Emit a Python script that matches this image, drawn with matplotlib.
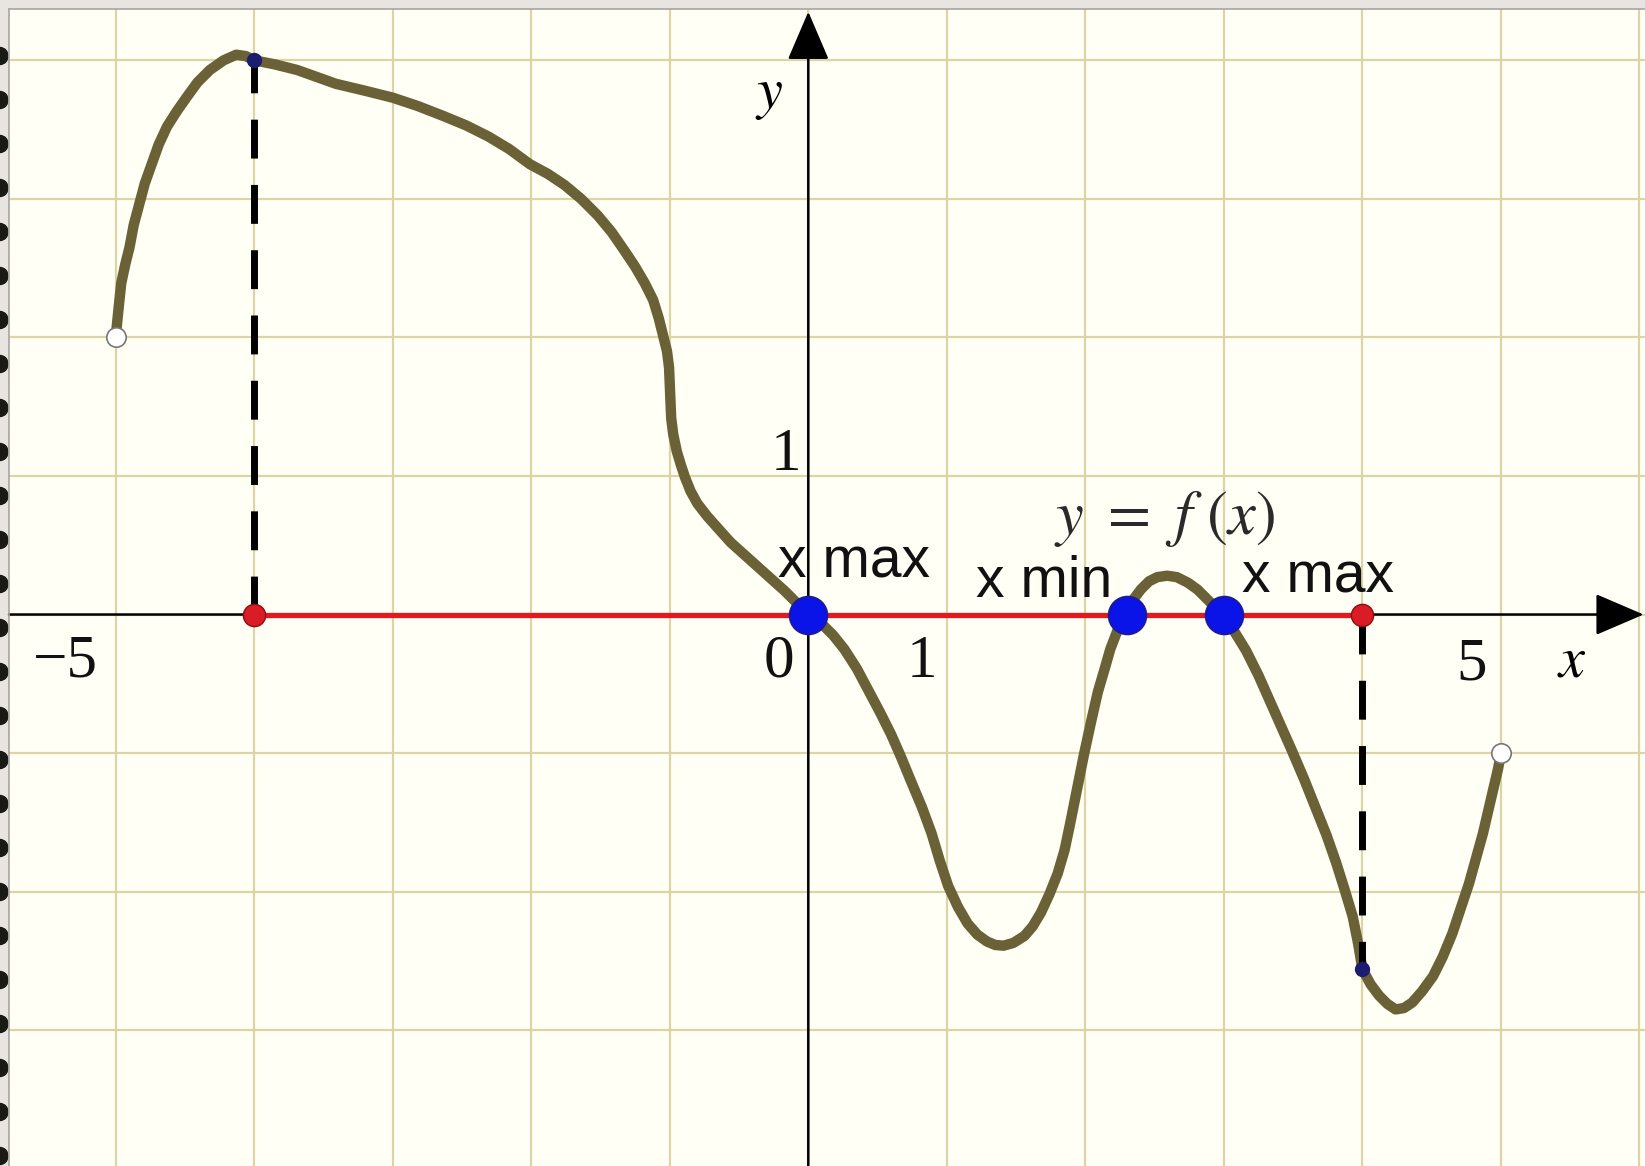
import numpy as np
import matplotlib
matplotlib.use('Agg')
import matplotlib.pyplot as plt

plt.rcParams['mathtext.fontset'] = 'stix'

# кривая y = f(x), точки
curve_x = [-5.0, -4.98, -4.96, -4.93, -4.90, -4.87, -4.83, -4.79, -4.74, -4.69,
           -4.63, -4.56, -4.49, -4.41, -4.32, -4.22, -4.13, -4.06, -4.0, -3.85,
           -3.69, -3.55, -3.41, -3.2, -3.0, -2.82, -2.64, -2.47, -2.31, -2.16,
           -2.01, -1.88, -1.76, -1.64, -1.52, -1.42, -1.33, -1.25, -1.18, -1.12,
           -1.08, -1.05, -1.02, -1.005, -1.0, -0.995, -0.99, -0.975, -0.95, -0.92,
           -0.89, -0.85, -0.80, -0.73, -0.65, -0.56, -0.46, -0.37, -0.27, -0.17,
           -0.07, 0.0, 0.10, 0.18, 0.26, 0.35, 0.43, 0.52, 0.60, 0.67,
           0.74, 0.82, 0.89, 0.95, 1.01, 1.08, 1.15, 1.22, 1.29, 1.35,
           1.41, 1.48, 1.56, 1.62, 1.68, 1.74, 1.80, 1.85, 1.89, 1.94,
           1.99, 2.04, 2.09, 2.14, 2.18, 2.23, 2.28, 2.34, 2.40, 2.46,
           2.52, 2.59, 2.66, 2.74, 2.81, 2.87, 2.93, 3.0, 3.08, 3.16,
           3.25, 3.33, 3.41, 3.49, 3.58, 3.66, 3.74, 3.81, 3.87, 3.93,
           3.97, 4.0, 4.06, 4.12, 4.18, 4.24, 4.30, 4.36, 4.43, 4.51,
           4.58, 4.65, 4.71, 4.77, 4.82, 4.87, 4.91, 4.95, 4.98, 5.0]
curve_y = [2.0, 2.2, 2.39, 2.53, 2.65, 2.81, 2.96, 3.11, 3.25, 3.39,
           3.52, 3.63, 3.73, 3.84, 3.93, 4.0, 4.04, 4.03, 4.0, 3.97,
           3.93, 3.88, 3.83, 3.78, 3.73, 3.67, 3.60, 3.53, 3.45, 3.36,
           3.25, 3.18, 3.10, 3.00, 2.88, 2.76, 2.63, 2.51, 2.39, 2.27,
           2.14, 2.02, 1.90, 1.78, 1.66, 1.54, 1.42, 1.30, 1.18, 1.08,
           0.99, 0.89, 0.80, 0.71, 0.62, 0.52, 0.43, 0.35, 0.26, 0.17,
           0.07, 0.0, -0.07, -0.15, -0.25, -0.39, -0.54, -0.71, -0.87, -1.03,
           -1.20, -1.39, -1.58, -1.78, -1.96, -2.11, -2.23, -2.31, -2.36, -2.385,
           -2.39, -2.37, -2.32, -2.25, -2.15, -2.02, -1.87, -1.70, -1.51, -1.26,
           -1.01, -0.78, -0.56, -0.39, -0.25, -0.12, 0.0, 0.10, 0.18, 0.24,
           0.27, 0.28, 0.27, 0.23, 0.18, 0.12, 0.06, 0.0, -0.13, -0.26,
           -0.44, -0.62, -0.80, -0.98, -1.19, -1.39, -1.59, -1.79, -1.98, -2.18,
           -2.38, -2.56, -2.67, -2.75, -2.81, -2.85, -2.84, -2.80, -2.72, -2.61,
           -2.47, -2.30, -2.12, -1.94, -1.76, -1.58, -1.41, -1.24, -1.11, -1.0]

open_x = [-5, 5]
open_y = [2, -1]
seg_x = [-4, 4]            # отрезок [-4; 4] на оси
seg_top = [4, -2.56]       # значения f(-4), f(4)
crit_x = [0, 2.3, 3]       # точки экстремума
crit_labels = ['x max', 'x min', 'x max']
label_pos = [(0.33, 0.27), (1.70, 0.13), (3.68, 0.16)]

xlim = (-5.77, 6.04)
ylim = (-3.98, 4.37)

fig = plt.figure(figsize=(16.45, 11.66), dpi=100)
fig.patch.set_facecolor('#e8e5e1')
ax = fig.add_axes([9/1645, 0, 1 - 9/1645, 1 - 9/1166])
ax.set_facecolor('#fffff5')
ax.set_xlim(*xlim)
ax.set_ylim(*ylim)
ax.set_xticks(range(-5, 7))
ax.set_yticks(range(-3, 5))
ax.grid(color='#dcd4a4', lw=1.6, zorder=0)
ax.tick_params(length=0, labelbottom=False, labelleft=False)
for s in ax.spines.values():
    s.set_visible(False)

# оси со стрелками
arrow = dict(arrowstyle='-|>,head_length=1.4,head_width=0.6', lw=1.8,
             color='black', shrinkA=0, shrinkB=0, mutation_scale=22)
ax.annotate('', xy=(6.03, 0), xytext=(xlim[0], 0), arrowprops=arrow, zorder=2)
ax.annotate('', xy=(0, 4.35), xytext=(0, ylim[0]), arrowprops=arrow, zorder=2)

# пунктир
for xv, yv in zip(seg_x, seg_top):
    ax.plot([xv, xv], [0, yv], color='black', lw=5, dashes=(5.6, 3.8), zorder=4)

ax.plot(curve_x, curve_y, color='#6b6137', lw=7.5, solid_joinstyle='round',
        solid_capstyle='round', zorder=3)
ax.plot(seg_x, [0, 0], color='#e3191f', lw=3.8, zorder=5)

ax.plot(seg_x, [0, 0], 'o', ms=16, color='#d91c26', mec='#8a1010', mew=1, zorder=6)
ax.plot(seg_x, seg_top, 'o', ms=10, color='#1c1c70', mec='#1c1c70', zorder=6)
ax.plot(open_x, open_y, 'o', ms=14, color='white', mec='#777777', mew=1.2, zorder=6)
ax.plot(crit_x, [0] * len(crit_x), 'o', ms=27, color='#0a14e8', mec='#1a1aa0',
        mew=1.5, zorder=7)

for t, (tx, ty) in zip(crit_labels, label_pos):
    ax.text(tx, ty, t, fontsize=41, family='Liberation Sans', ha='center',
            va='baseline', color='#111111', zorder=8)

ax.text(2.57, 0.58, r'$y\ =\ f\ (x)$', fontsize=45, ha='center', va='baseline',
        color='#2a2a2a', zorder=8)

# подписи делений
tick_font = dict(fontsize=44, family='Liberation Serif', ha='center',
                 va='baseline', color='#111111', zorder=8)
ax.text(-5.36, -0.45, '\u22125', **tick_font)
ax.text(-0.21, -0.45, '0', **tick_font)
ax.text(0.82, -0.45, '1', **tick_font)
ax.text(4.79, -0.47, '5', **tick_font)
ax.text(-0.16, 1.045, '1', **tick_font)
ax.text(-0.28, 3.76, r'$y$', fontsize=42, ha='center', va='center', zorder=8)
ax.text(5.51, -0.33, r'$x$', fontsize=42, ha='center', va='center', zorder=8)

# рамка слева с "пружиной"
fig.add_artist(plt.Line2D([9/1645, 9/1645], [0, 1 - 9/1166], color='#a8a5a0',
                          lw=1.2, transform=fig.transFigure))
fig.add_artist(plt.Line2D([9/1645, 1], [1 - 9/1166, 1 - 9/1166], color='#a8a5a0',
                          lw=1.2, transform=fig.transFigure))
bead_y = np.arange(1110, 0, -44) / 1166
for by in bead_y:
    fig.add_artist(matplotlib.patches.Ellipse((0, by), 16/1645, 17/1166,
                                              color='#1a1a14',
                                              transform=fig.transFigure))

fig.savefig('out.png', dpi=100, facecolor=fig.get_facecolor())
